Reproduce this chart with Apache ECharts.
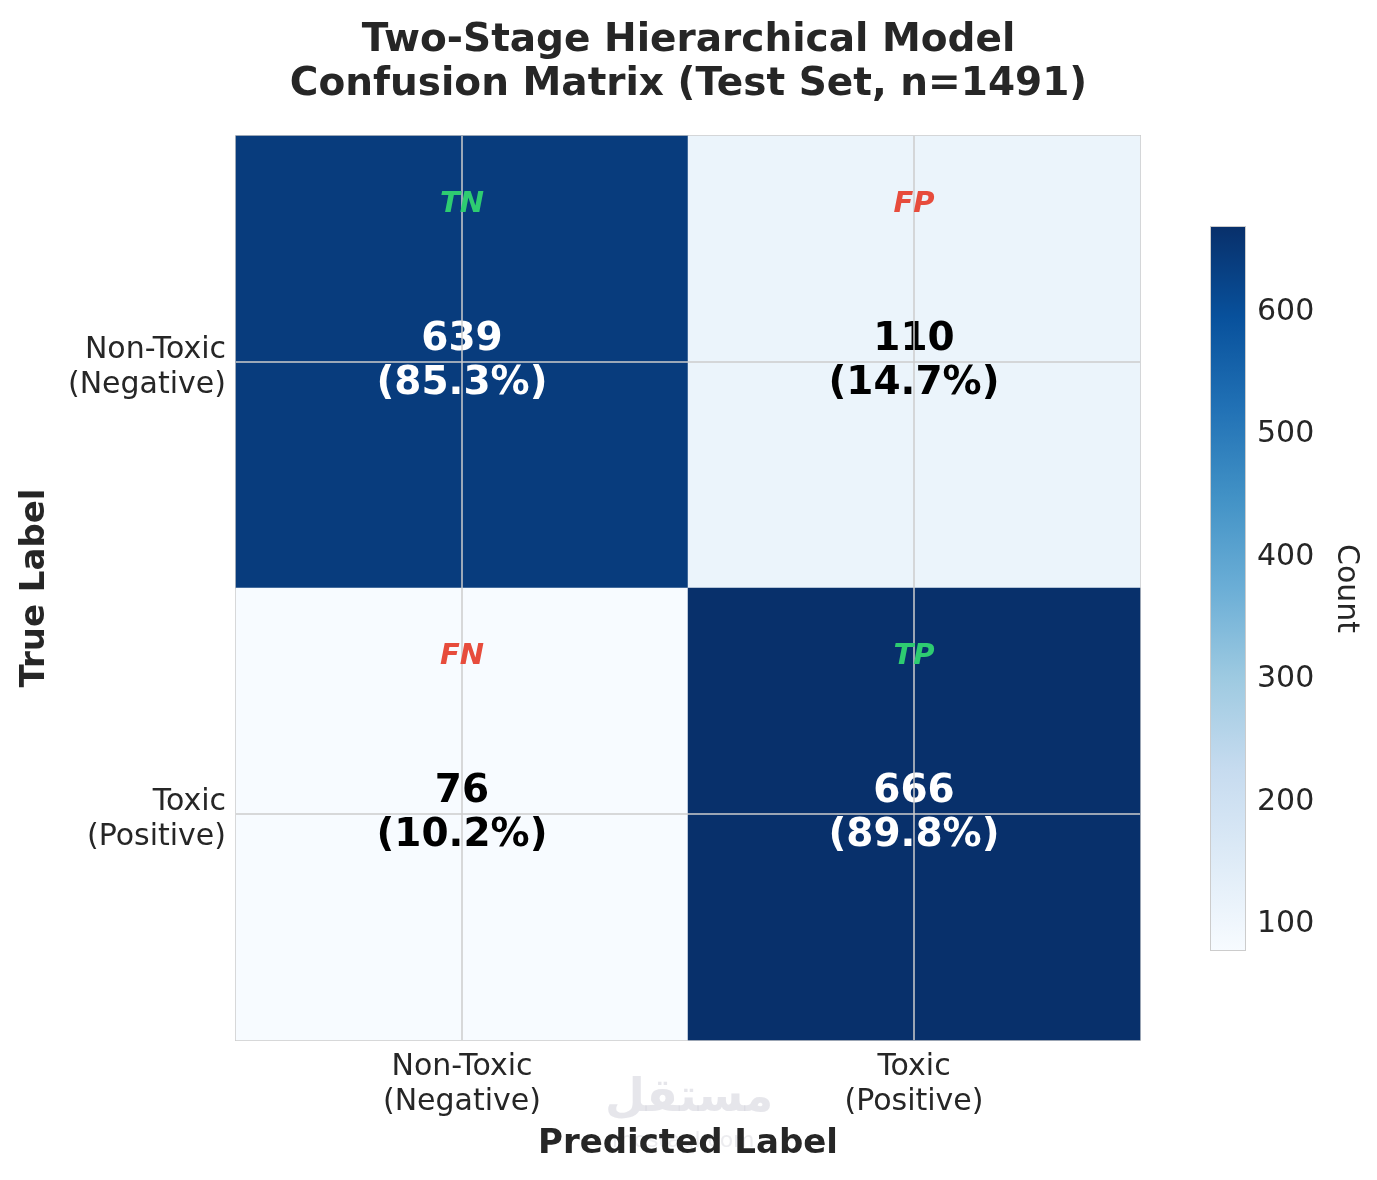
<!DOCTYPE html>
<html>
<head>
<meta charset="utf-8">
<script src="https://cdn.jsdelivr.net/npm/echarts@6/dist/echarts.min.js"></script>
<style>html,body{margin:0;padding:0;background:#fff;}#c{width:1377px;height:1180px;}</style>
</head>
<body>
<div id="c"></div>
<script>
const predCats = ['Non-Toxic\n(Negative)', 'Toxic\n(Positive)'];
const trueCats = ['Non-Toxic\n(Negative)', 'Toxic\n(Positive)'];
const counts = [[639, 110], [76, 666]];
const percents = [[85.3, 14.7], [10.2, 89.8]];
const tags = [['TN', 'FP'], ['FN', 'TP']];
const tagColors = [['#2ecc71', '#e74c3c'], ['#e74c3c', '#2ecc71']];
const colorbarTicks = [100, 200, 300, 400, 500, 600];
const blues = ['#f7fbff', '#deebf7', '#c6dbef', '#9ecae1', '#6baed6', '#4292c6', '#2171b5', '#08519c', '#08306b'];

const FONT = 'DejaVu Sans';
const TXT = '#262626';
const vmin = 76, vmax = 666;

const heatData = [];
const tagData = [];
for (let r = 0; r < 2; r++) {
  for (let c = 0; c < 2; c++) {
    const v = counts[r][c];
    heatData.push({
      value: [c, r, v],
      pct: percents[r][c],
      label: { color: v > (vmin + vmax) / 2 ? '#ffffff' : '#000000' }
    });
    tagData.push({
      value: [c, r],
      tag: tags[r][c],
      label: { color: tagColors[r][c] }
    });
  }
}

const stops = blues.map((col, i) => ({ offset: i / (blues.length - 1), color: col }));

const chart = echarts.init(document.getElementById('c'));
chart.setOption({
  backgroundColor: '#ffffff',
  textStyle: { fontFamily: FONT },
  animation: false,
  title: {
    text: 'Two-Stage Hierarchical Model\nConfusion Matrix (Test Set, n=1491)',
    left: 'center',
    top: 14,
    textStyle: { fontFamily: FONT, fontSize: 39, fontWeight: 'bold', color: TXT, lineHeight: 44 }
  },
  graphic: [
    { type: 'text', left: 605, top: 1076, z: -10, style: { text: 'مستقل', font: 'bold 46px "DejaVu Sans"', fill: 'rgba(200,200,210,0.45)' } },
    { type: 'text', left: 612, top: 1130, z: -10, style: { text: 'mostaql.com', font: '22px "DejaVu Sans"', fill: 'rgba(200,200,210,0.35)' } }
  ],
  grid: [
    { left: 236, top: 136, width: 904, height: 904, show: true, borderColor: '#cccccc', borderWidth: 2, backgroundColor: 'transparent' },
    { left: 1211, top: 227, width: 34, height: 723, show: true, borderColor: '#cccccc', borderWidth: 2, backgroundColor: 'transparent' }
  ],
  xAxis: [
    {
      type: 'category', gridIndex: 0, data: predCats,
      axisLine: { show: false }, axisTick: { show: false }, splitLine: { show: false },
      axisLabel: { fontFamily: FONT, fontSize: 30, color: TXT, lineHeight: 35, margin: 10 },
      name: 'Predicted Label', nameLocation: 'middle', nameGap: 87,
      nameTextStyle: { fontFamily: FONT, fontSize: 34, fontWeight: 'bold', color: TXT }
    },
    { type: 'category', gridIndex: 1, data: ['cb'], show: false }
  ],
  yAxis: [
    {
      type: 'category', gridIndex: 0, data: trueCats, inverse: true,
      axisLine: { show: false }, axisTick: { show: false }, splitLine: { show: false },
      axisLabel: {
        fontFamily: FONT, fontSize: 30, color: TXT, lineHeight: 35, margin: 10, align: 'right',
        formatter: v => '{s| }\n' + v.split('\n').map(t => '{a|' + t + '}').join('\n'),
        rich: {
          s: { fontSize: 1, lineHeight: 11 },
          a: { fontFamily: FONT, fontSize: 30, color: TXT, lineHeight: 35, align: 'right' }
        }
      },
      name: 'True Label', nameLocation: 'middle', nameGap: 184, nameRotate: 90,
      nameTextStyle: { fontFamily: FONT, fontSize: 34, fontWeight: 'bold', color: TXT }
    },
    {
      type: 'value', gridIndex: 1, position: 'right', min: vmin, max: vmax,
      axisLine: { show: false }, axisTick: { show: false }, splitLine: { show: false },
      axisLabel: {
        customValues: colorbarTicks, fontFamily: FONT, fontSize: 30, color: TXT, margin: 12,
        formatter: v => '{n|' + v + '}',
        rich: { n: { fontFamily: FONT, fontSize: 30, color: TXT, padding: [8, 0, 0, 0] } }
      },
      name: 'Count', nameLocation: 'middle', nameGap: 86, nameRotate: -90,
      nameTextStyle: { fontFamily: FONT, fontSize: 30, color: TXT }
    }
  ],
  visualMap: {
    show: false, type: 'continuous', seriesIndex: 0, min: vmin, max: vmax, dimension: 2,
    inRange: { color: blues }
  },
  series: [
    {
      type: 'heatmap', xAxisIndex: 0, yAxisIndex: 0, data: heatData,
      emphasis: { disabled: true },
      label: {
        show: true, fontFamily: FONT, fontSize: 39, fontWeight: 'bold', lineHeight: 44,
        textBorderWidth: 0,
        formatter: p => p.data.value[2] + '\n(' + p.data.pct.toFixed(1) + '%)'
      },
      markLine: {
        silent: true, symbol: 'none', animation: false,
        label: { show: false },
        lineStyle: { color: '#cccccc', width: 1.5, type: 'solid' },
        data: [{ xAxis: predCats[0] }, { xAxis: predCats[1] }, { yAxis: trueCats[0] }, { yAxis: trueCats[1] }]
      }
    },
    {
      type: 'scatter', xAxisIndex: 0, yAxisIndex: 0, data: tagData,
      symbolSize: 1, itemStyle: { color: 'rgba(0,0,0,0)', opacity: 1 }, silent: true, z: 5,
      label: {
        show: true, position: 'inside', offset: [0, -158],
        fontFamily: FONT, fontSize: 29, fontWeight: 'bold', fontStyle: 'italic',
        textBorderWidth: 0, textBorderColor: 'transparent',
        formatter: p => p.data.tag
      }
    },
    {
      type: 'bar', xAxisIndex: 1, yAxisIndex: 1, data: [vmax], barWidth: '100%', silent: true,
      itemStyle: { color: new echarts.graphic.LinearGradient(0, 1, 0, 0, stops) }
    }
  ]
});
</script>
</body>
</html>
